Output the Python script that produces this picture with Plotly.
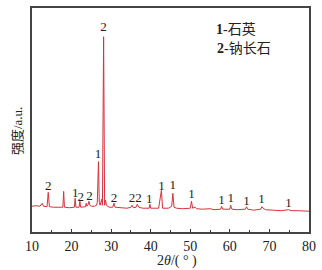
import plotly.graph_objects as go

two_theta = [10.0, 11.0, 12.0, 12.4, 12.6, 12.9, 13.8, 14.1, 14.4, 15.5, 17.0, 17.8, 18.0, 18.2,
             19.5, 20.7, 20.9, 21.1, 21.9, 22.1, 22.3, 23.5, 23.7, 23.9, 24.2, 24.4, 24.6, 25.0,
             25.8, 26.3, 26.5, 26.8, 27.0, 27.2, 27.4, 27.6, 27.8, 28.1, 28.35, 28.6, 28.8, 29.5,
             30.4, 30.7, 31.0, 32.5, 34.0, 35.0, 35.3, 35.6, 36.3, 36.6, 37.0, 38.0, 39.6, 39.8,
             40.0, 42.0, 42.7, 43.0, 44.5, 45.3, 45.6, 45.9, 46.5, 48.0, 50.0, 50.3, 50.6, 51.2,
             51.6, 53.0, 55.0, 56.0, 57.7, 57.9, 58.2, 60.0, 60.2, 60.5, 62.0, 63.9, 64.2, 64.5,
             66.0, 67.8, 68.1, 68.4, 69.0, 71.0, 73.0, 74.8, 75.5, 77.0, 79.0, 80.0]
intensity = [26, 26.5, 26, 29, 29, 26, 25.5, 40, 25.5, 25, 25, 25, 41, 25,
             24.5, 25, 34, 25, 25, 31, 25, 25.5, 29, 26, 28, 31, 27, 26,
             26, 27, 30, 71, 30, 27, 30, 33, 27, 197, 27, 32, 27, 25,
             25, 29, 25, 24.5, 24, 25, 27, 24.5, 25, 28, 25, 24, 24, 28,
             24, 24, 42, 24, 24, 26, 39, 25, 24, 23.5, 24, 31, 24, 25,
             23.5, 23, 23.5, 22.5, 23, 26, 23, 23, 27, 23, 22.5, 23, 25.5, 23,
             22, 23, 25.5, 24, 22.5, 22, 21.5, 22.5, 21.5, 21.5, 21, 21]

label_x = [14.1, 20.9, 22.3, 24.5, 26.7, 28.1, 30.7, 35.3, 36.9, 39.65, 42.7, 45.6, 50.3,
           57.9, 60.2, 64.2, 68.0, 74.8]
label_y = [46, 39, 35, 36, 78, 206, 34, 34, 34, 33, 46, 47, 38, 32, 34, 31, 33, 29]
label_text = ["2", "1", "2", "2", "1", "2", "2", "2", "2", "1", "1", "1", "1",
              "1", "1", "1", "1", "1"]

x_ticks = [10, 20, 30, 40, 50, 60, 70, 80]

serif = "Liberation Serif, Noto Sans CJK SC"

fig = go.Figure()
fig.add_trace(go.Scatter(x=two_theta, y=intensity, mode="lines",
                         line=dict(color="#d8323a", width=1), hoverinfo="skip"))
fig.add_trace(go.Scatter(x=label_x, y=label_y, mode="text", text=label_text,
                         textfont=dict(family=serif, size=13, color="#222"),
                         hoverinfo="skip"))

fig.update_layout(
    width=322, height=270,
    margin=dict(l=32, r=9, t=6, b=38),
    paper_bgcolor="white", plot_bgcolor="white",
    showlegend=False,
    xaxis=dict(range=[10, 80], tickvals=x_ticks, ticks="inside", ticklen=3,
               tickcolor="#333", showgrid=False, zeroline=False,
               showline=True, linecolor="#444", linewidth=1.5, mirror=True,
               tickfont=dict(family=serif, size=14, color="#222"),
               minor=dict(dtick=5, ticks="inside", ticklen=2, tickcolor="#333")),
    yaxis=dict(range=[0, 226], showticklabels=False, ticks="", showgrid=False,
               zeroline=False, showline=True, linecolor="#444", linewidth=1.5,
               mirror=True),
    annotations=[
        dict(text="2<i>θ</i>/( ° )", xref="paper", yref="paper",
             x=(179 - 32) / 281, y=(232 - 261) / 226, xanchor="center", yanchor="middle",
             showarrow=False, font=dict(family=serif, size=14, color="#222")),
        dict(text="强度/a.u.", xref="paper", yref="paper",
             x=(18 - 32) / 281, y=(232 - 130) / 226, xanchor="center", yanchor="middle",
             textangle=-90, showarrow=False,
             font=dict(family=serif, size=13, color="#222")),
        dict(text="<b>1</b>-石英", xref="paper", yref="paper",
             x=(217 - 32) / 281, y=(232 - 27) / 226, xanchor="left", yanchor="middle",
             showarrow=False, font=dict(family=serif, size=14, color="#222")),
        dict(text="<b>2</b>-钠长石", xref="paper", yref="paper",
             x=(218 - 32) / 281, y=(232 - 47) / 226, xanchor="left", yanchor="middle",
             showarrow=False, font=dict(family=serif, size=14, color="#222")),
    ],
)

fig.write_html("out.html")
